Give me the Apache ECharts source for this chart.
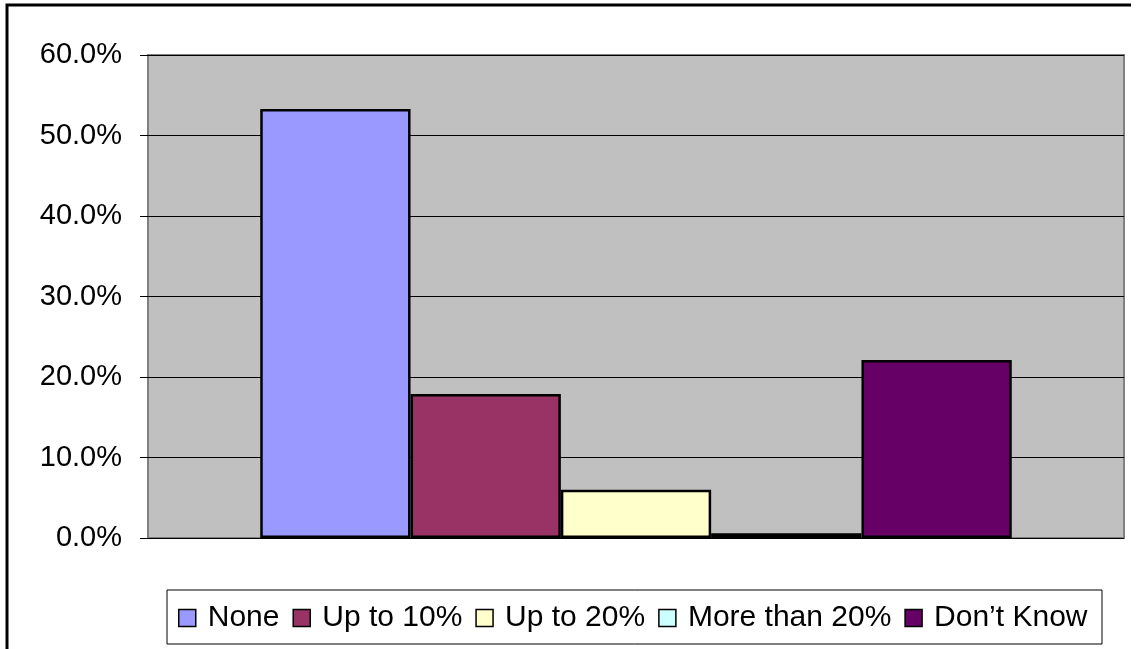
<!DOCTYPE html>
<html>
<head>
<meta charset="utf-8">
<script src="https://cdn.jsdelivr.net/npm/echarts@6/dist/echarts.min.js"></script>
<style>
html,body{margin:0;padding:0;background:#fff;}
#chart{width:1140px;height:649px;}
</style>
</head>
<body>
<div id="chart"></div>
<script>
var categories = [''];
var seriesNames = ['None', 'Up to 10%', 'Up to 20%', 'More than 20%', 'Don\u2019t Know'];
var seriesValues = [0.533, 0.179, 0.060, 0.006, 0.221];
var seriesColors = ['#9999FF', '#993366', '#FFFFCC', '#CCFFFF', '#660066'];
var yTicks = [0, 0.1, 0.2, 0.3, 0.4, 0.5, 0.6];

var FONT = '"Liberation Sans", Arial, sans-serif';
var chart = echarts.init(document.getElementById('chart'), null, {renderer: 'canvas'});

var series = seriesNames.map(function (name, i) {
  return {
    name: name,
    type: 'bar',
    data: [seriesValues[i]],
    barGap: '0%',
    barCategoryGap: '23%',
    itemStyle: {color: seriesColors[i], borderColor: '#000', borderWidth: 2.5},
    emphasis: {disabled: true}
  };
});

chart.setOption({
  animation: false,
  backgroundColor: '#fff',
  grid: {
    left: 148, right: 16, top: 55, bottom: 111,
    show: true, backgroundColor: '#C0C0C0', borderColor: '#808080', borderWidth: 2
  },
  xAxis: {
    type: 'category',
    data: categories,
    axisLine: {show: false},
    axisTick: {show: false},
    axisLabel: {show: false},
    splitLine: {show: false}
  },
  yAxis: {
    type: 'value',
    min: yTicks[0],
    max: yTicks[yTicks.length - 1],
    interval: 0.1,
    axisLine: {show: false},
    axisTick: {show: true, length: 8, lineStyle: {color: '#000', width: 1}},
    axisLabel: {
      margin: 26,
      color: '#000',
      fontFamily: FONT,
      fontSize: 29,
      formatter: function (v) { return (v * 100).toFixed(1) + '%'; }
    },
    splitLine: {show: true, lineStyle: {color: '#000', width: 1}}
  },
  legend: {
    data: seriesNames,
    left: 178,
    top: 603,
    padding: 0,
    itemWidth: 17,
    itemHeight: 17,
    itemGap: 13,
    icon: 'rect',
    itemStyle: {borderColor: '#000', borderWidth: 1.5},
    textStyle: {color: '#000', fontFamily: FONT, fontSize: 30, padding: [0, 0, 0, 7]},
    selectedMode: false
  },
  graphic: [
    {
      type: 'rect', z: -1,
      shape: {x: 167, y: 590, width: 935, height: 54},
      style: {fill: '#fff', stroke: '#000', lineWidth: 1}
    },
    {
      type: 'polyline', z: 10,
      shape: {points: [[7, 660], [7, 5], [1131, 5]]},
      style: {fill: null, stroke: '#000', lineWidth: 3}
    }
  ],
  series: series
});
</script>
</body>
</html>
